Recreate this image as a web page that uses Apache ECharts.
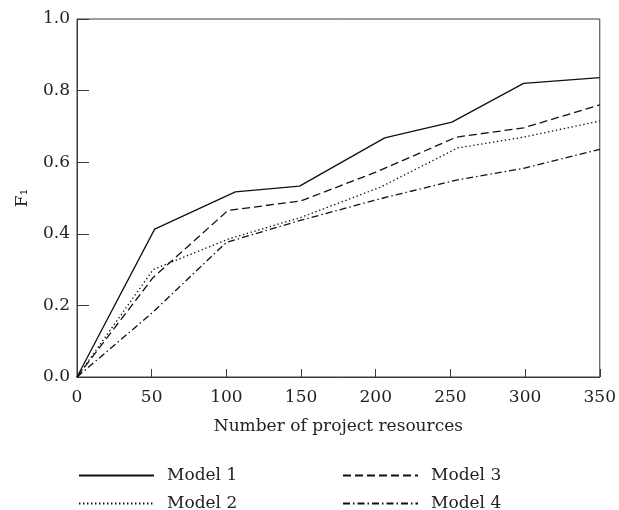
<!DOCTYPE html>
<html>
<head>
<meta charset="utf-8">
<script src="https://cdn.jsdelivr.net/npm/echarts@6/dist/echarts.min.js"></script>
<style>
html,body{margin:0;padding:0;background:#fff;}
#c{width:619px;height:510px;}
</style>
</head>
<body>
<div id="c"></div>
<script>
// Data
var seriesNames = ['Model 1', 'Model 2', 'Model 3', 'Model 4'];
var model1 = [[0,0],[52,0.413],[106,0.517],[149,0.533],[206,0.668],[251,0.712],[299,0.820],[350,0.836]];
var model2 = [[0,0],[51,0.300],[101,0.385],[150,0.446],[203,0.530],[255,0.640],[299,0.670],[350,0.715]];
var model3 = [[0,0],[51,0.278],[101,0.465],[150,0.492],[200,0.572],[254,0.670],[299,0.696],[350,0.760]];
var model4 = [[0,0],[50,0.178],[100,0.376],[150,0.438],[205,0.500],[254,0.550],[299,0.583],[350,0.636]];
var xTicks = [0, 50, 100, 150, 200, 250, 300, 350];
var yTicks = [0.0, 0.2, 0.4, 0.6, 0.8, 1.0];
var xLabel = 'Number of project resources';
var yLabel = 'F\u2081';

var FONT = 'DejaVu Serif';
var TXT = '#222';
var AX = '#3a3a3a';
var dashes = ['solid', [1.4, 2.6], [8, 4], [7, 3, 1.5, 3]];
var datas = [model1, model2, model3, model4];

var chart = echarts.init(document.getElementById('c'), null, {renderer: 'canvas'});
var series = datas.map(function (d, i) {
  return {
    name: seriesNames[i],
    type: 'line',
    data: d,
    symbol: 'none',
    showSymbol: false,
    animation: false,
    lineStyle: {color: '#111', width: 1.3, type: dashes[i]},
    itemStyle: {color: '#111'}
  };
});

function makeLegend(names, left) {
  return {
    show: true,
    orient: 'vertical',
    left: left,
    top: 462,
    height: 80,
    itemWidth: 75,
    itemHeight: 14,
    itemGap: 11,
    selectedMode: false,
    data: names,
    itemStyle: {opacity: 0, borderWidth: 0},
    textStyle: {fontFamily: FONT, fontSize: 17, color: TXT, padding: [0, 0, 0, 8]}
  };
}

chart.setOption({
  animation: false,
  backgroundColor: '#fff',
  grid: {left: 77, right: 13, top: 19, bottom: 133, show: true, borderColor: AX, borderWidth: 1, backgroundColor: 'transparent'},
  legend: [
    makeLegend(seriesNames.slice(0, 2), 73),
    makeLegend(seriesNames.slice(2, 4), 337)
  ],
  xAxis: {
    type: 'value',
    min: xTicks[0],
    max: xTicks[xTicks.length - 1],
    interval: 50,
    name: xLabel,
    nameLocation: 'middle',
    nameGap: 41,
    nameTextStyle: {fontFamily: FONT, fontSize: 17, color: TXT},
    axisLine: {show: true, lineStyle: {color: AX, width: 1}},
    axisTick: {show: true, inside: true, length: 8, lineStyle: {color: AX}},
    axisLabel: {fontFamily: FONT, fontSize: 17, color: TXT, margin: 12},
    splitLine: {show: false}
  },
  yAxis: {
    type: 'value',
    min: yTicks[0],
    max: yTicks[yTicks.length - 1],
    interval: 0.2,
    name: yLabel,
    nameLocation: 'middle',
    nameGap: 46,
    nameRotate: 90,
    nameTextStyle: {fontFamily: FONT, fontSize: 17, color: TXT},
    axisLine: {show: true, lineStyle: {color: AX, width: 1}},
    axisTick: {show: true, inside: true, length: 12, lineStyle: {color: AX}},
    axisLabel: {fontFamily: FONT, fontSize: 17, color: TXT, margin: 7, formatter: function (v) { return v.toFixed(1); }},
    splitLine: {show: false}
  },
  series: series
});
</script>
</body>
</html>
